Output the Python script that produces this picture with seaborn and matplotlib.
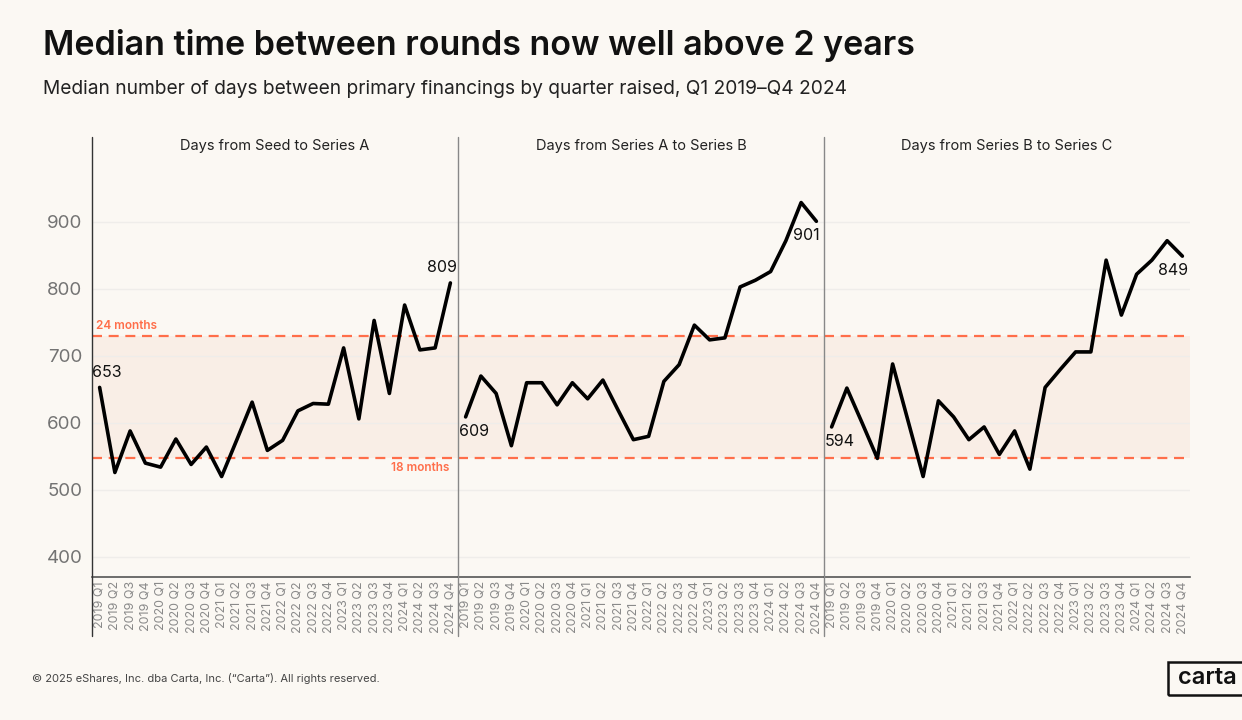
import numpy as np
import pandas as pd
import matplotlib
matplotlib.use("Agg")
import matplotlib.pyplot as plt
from matplotlib.lines import Line2D
from matplotlib.patches import Rectangle
import seaborn as sns

quarters = [f"{y} Q{q}" for y in range(2019, 2025) for q in range(1, 5)]

seed_to_a = [653, 526, 588, 540, 534, 576, 538, 564, 520, 575, 631, 559,
             574, 618, 629, 628, 712, 606, 753, 644, 776, 709, 712, 809]
a_to_b = [609, 670, 644, 566, 660, 660, 627, 660, 636, 664, 619, 575,
          580, 662, 687, 746, 724, 727, 803, 813, 826, 872, 929, 901]
b_to_c = [594, 652, 600, 547, 688, 604, 520, 633, 609, 575, 594, 553,
          588, 531, 653, 680, 706, 706, 843, 761, 822, 843, 872, 849]

panel_titles = ["Days from Seed to Series A", "Days from Series A to Series B",
                "Days from Series B to Series C"]
series = [seed_to_a, a_to_b, b_to_c]
y_ticks = [400, 500, 600, 700, 800, 900]
band_low, band_high = 547.5, 730
band_labels = ["18 months", "24 months"]

title = "Median time between rounds now well above 2 years"
subtitle = "Median number of days between primary financings by quarter raised, Q1 2019\u2013Q4 2024"
footer = "\u00a9 2025 eShares, Inc. dba Carta, Inc. (\u201cCarta\u201d). All rights reserved."

BG = "#FBF8F3"
ORANGE = "#FF6E4A"
BAND = "#F9EEE6"

sns.set_theme(style="white")
plt.rcParams["font.family"] = ["Inter", "DejaVu Sans"]

W, H = 1242, 720
fig = plt.figure(figsize=(W / 100, H / 100), dpi=100, facecolor=BG)

left_px, right_px, bot_px, top_px = 92, 1190, 577, 160
pw = (right_px - left_px) / 3

def fx(px):
    return px / W

def fy(py):
    return 1 - py / H

axes = []
for i in range(3):
    ax = fig.add_axes([fx(left_px + i * pw), fy(bot_px), pw / W, (bot_px - top_px) / H])
    ax.set_facecolor(BG)
    axes.append(ax)

for i, (ax, vals) in enumerate(zip(axes, series)):
    df = pd.DataFrame({"idx": np.arange(len(quarters)), "days": vals})
    ax.axhspan(band_low, band_high, color=BAND, zorder=0, lw=0)
    for yt in y_ticks:
        ax.axhline(yt, color="#EFEDEA", lw=1, zorder=0.5)
    ax.axhline(band_low, color=ORANGE, lw=1.6, ls=(0, (4.5, 3)), zorder=1)
    ax.axhline(band_high, color=ORANGE, lw=1.6, ls=(0, (4.5, 3)), zorder=1)
    sns.lineplot(data=df, x="idx", y="days", ax=ax, color="black", lw=2.6, zorder=3)
    ax.set_xlim(-0.5, len(quarters) - 0.5)
    ax.set_ylim(370, 992.5)
    ax.set_xticks(np.arange(len(quarters)))
    ax.set_xticklabels(quarters, rotation=90, fontsize=9, color="#8A8A8A")
    ax.tick_params(axis="x", length=0, pad=3)
    ax.set_yticks(y_ticks)
    if i == 0:
        ax.set_yticklabels([str(v) for v in y_ticks], fontsize=13.5, color="#737373")
        ax.tick_params(axis="y", length=0, pad=7)
    else:
        ax.set_yticklabels([])
        ax.tick_params(axis="y", length=0)
    ax.set_xlabel("")
    ax.set_ylabel("")
    for s in ["top", "right", "left"]:
        ax.spines[s].set_visible(False)
    ax.spines["bottom"].set_color("#555555")
    ax.spines["bottom"].set_linewidth(1.2)

    n = len(vals)
    ax.annotate(str(vals[0]), (0, vals[0]),
                xytext=(5, 5) if i == 0 else (6, -5), textcoords="offset points",
                ha="center", va="bottom" if i == 0 else "top",
                fontsize=11.5, color="#111111")
    if i == 0:
        ax.annotate(str(vals[-1]), (n - 1, vals[-1]), xytext=(-6, 6),
                    textcoords="offset points", ha="center", va="bottom",
                    fontsize=11.5, color="#111111")
    else:
        ax.annotate(str(vals[-1]), (n - 1, vals[-1]), xytext=(-7, -5),
                    textcoords="offset points", ha="center", va="top",
                    fontsize=11.5, color="#111111")

    fig.text(fx(left_px + i * pw + pw / 2), fy(146), panel_titles[i],
             ha="center", va="center", fontsize=10.5, color="#222222")

# band labels on first panel
axes[0].annotate(band_labels[1], (-0.5, band_high), xytext=(3, 3), textcoords="offset points",
                 ha="left", va="bottom", fontsize=8.5, color=ORANGE, fontweight="semibold")
axes[0].annotate(band_labels[0], (23.5, band_low), xytext=(-6, -3), textcoords="offset points",
                 ha="right", va="top", fontsize=8.5, color=ORANGE, fontweight="semibold")

# vertical frame lines
for k in range(3):
    x = left_px + k * pw
    color = "#333333" if k == 0 else "#888888"
    fig.add_artist(Line2D([fx(x), fx(x)], [fy(137), fy(636)], color=color, lw=1.0))

fig.text(fx(43), fy(45), title, ha="left", va="center", fontsize=24.5, fontweight="semibold", color="#111111")
fig.text(fx(43), fy(89), subtitle, ha="left", va="center", fontsize=13.8, color="#222222")
fig.text(fx(32), fy(679), footer, ha="left", va="center", fontsize=8, color="#444444")

# carta logo
fig.add_artist(Rectangle((fx(1168), fy(695)), (1250 - 1168) / W, (695 - 662) / H,
                         fill=False, ec="#111111", lw=1.8, transform=fig.transFigure))
fig.text(fx(1207), fy(678), "carta", ha="center", va="center", fontsize=17, color="#111111",
         fontweight="semibold")

fig.savefig("out.png", dpi=100, facecolor=BG)
